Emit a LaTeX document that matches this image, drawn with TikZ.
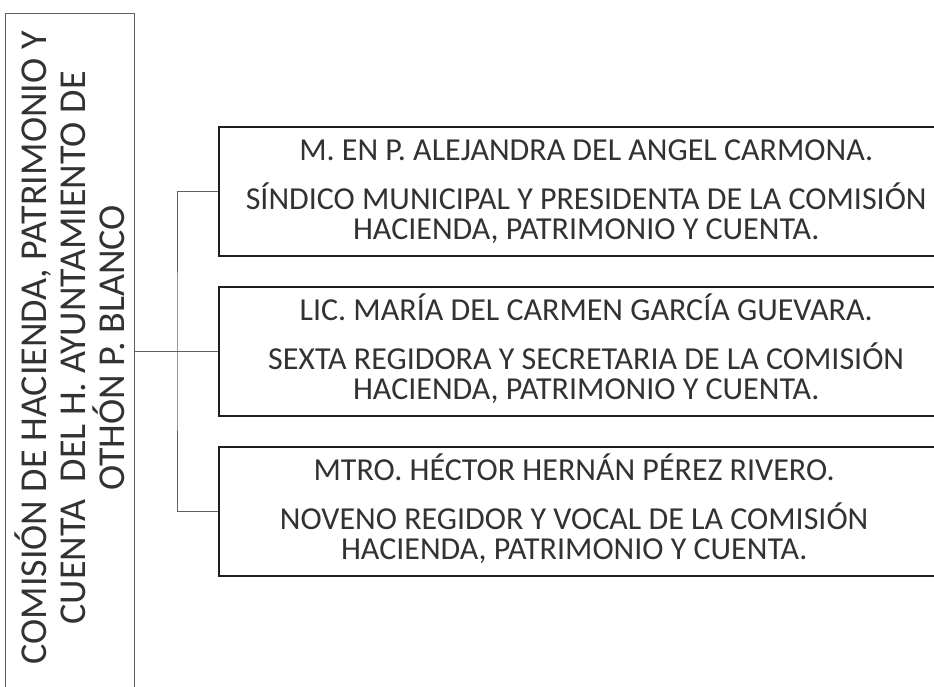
\documentclass[tikz,border=0pt]{standalone}
\usepackage{fontspec}
\setmainfont{Carlito}
\definecolor{boxInk}{RGB}{30,30,30}
\definecolor{lineGray}{RGB}{95,95,95}
\definecolor{textInk}{RGB}{50,50,50}

\begin{document}
\begin{tikzpicture}[x=1pt,y=-1pt,
  cargo/.style={draw=boxInk, line width=2.4pt, minimum width=734pt, minimum height=129pt, anchor=west, inner sep=0pt},
  linea/.style={anchor=base, text=textInk, font=\fontsize{32}{36}\selectfont},
  rama/.style={draw=lineGray, line width=0.9pt}]
\useasboundingbox (0,0) rectangle (934,687);

% comision, texto girado
\node[draw=lineGray, line width=1.2pt, minimum width=129pt, minimum height=690pt, anchor=north west, inner sep=0pt] (comision) at (5,13) {};
\node[rotate=90, align=center, text=textInk, font=\fontsize{38}{39}\selectfont] (titulo) at (70,348) {COMISIÓN DE HACIENDA, PATRIMONIO Y\\CUENTA \ DEL H. AYUNTAMIENTO DE\\OTHÓN P. BLANCO};

% integrantes
\node[cargo] (presidenta) at (218,191.5) {};
\node[cargo] (secretaria) at (218,351.5) {};
\node[cargo] (vocal) at (218,511.5) {};

\node[linea] (presidentaNombre) at ([yshift=-35pt]presidenta.north) {M. EN P. ALEJANDRA DEL ANGEL CARMONA.};
\node[linea] (presidentaCargo) at ([yshift=-84pt]presidenta.north) {SÍNDICO MUNICIPAL Y PRESIDENTA DE LA COMISIÓN};
\node[linea] (presidentaCuenta) at ([yshift=-114pt]presidenta.north) {HACIENDA, PATRIMONIO Y CUENTA.};

\node[linea] (secretariaNombre) at ([yshift=-35pt]secretaria.north) {LIC. MARÍA DEL CARMEN GARCÍA GUEVARA.};
\node[linea] (secretariaCargo) at ([yshift=-84pt]secretaria.north) {SEXTA REGIDORA Y SECRETARIA DE LA COMISIÓN};
\node[linea] (secretariaCuenta) at ([yshift=-114pt]secretaria.north) {HACIENDA, PATRIMONIO Y CUENTA.};

\node[linea] (vocalNombre) at ([xshift=-12pt,yshift=-35pt]vocal.north) {MTRO. HÉCTOR HERNÁN PÉREZ RIVERO.};
\node[linea] (vocalCargo) at ([xshift=-12pt,yshift=-84pt]vocal.north) {NOVENO REGIDOR Y VOCAL DE LA COMISIÓN};
\node[linea] (vocalCuenta) at ([xshift=-12pt,yshift=-114pt]vocal.north) {HACIENDA, PATRIMONIO Y CUENTA.};

% conectores
\coordinate (tronco) at (177,351.5);
\draw[rama] (comision.east |- secretaria.west) -- (secretaria.west);
\draw[rama] (presidenta.west) -| (tronco) |- (vocal.west);
\end{tikzpicture}
\end{document}
